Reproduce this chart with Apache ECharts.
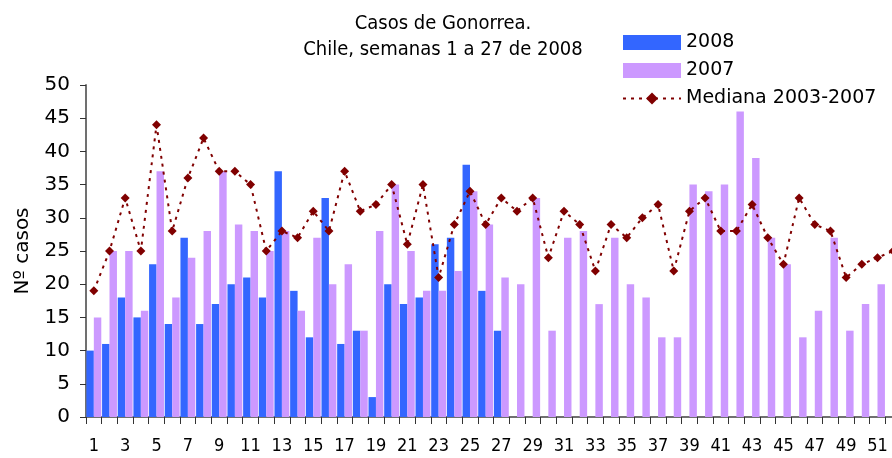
<!DOCTYPE html>
<html>
<head>
<meta charset="utf-8">
<script src="https://cdn.jsdelivr.net/npm/echarts@6/dist/echarts.min.js"></script>
<style>
html,body{margin:0;padding:0;background:#fff;}
#chart{width:892px;height:458px;}
</style>
</head>
<body>
<div id="chart"></div>
<script>
var weeks = [];
for (var w = 1; w <= 52; w++) weeks.push(String(w));

var cases2008 = [10, 11, 18, 15, 23, 14, 27, 14, 17, 20, 21, 18, 37, 19, 12, 33, 11, 13, 3, 20, 17, 18, 26, 27, 38, 19, 13];

var cases2007 = [15, 25, 25, 16, 37, 18, 24, 28, 37, 29, 28, 25, 28, 16, 27, 20, 23, 13, 28, 35,
                 25, 19, 19, 22, 34, 29, 21, 20, 33, 13, 27, 28, 17, 27, 20, 18, 12, 12, 35, 34,
                 35, 46, 39, 27, 23, 12, 16, 27, 13, 17, 20, 21];

var median0307 = [19, 25, 33, 25, 44, 28, 36, 42, 37, 37, 35, 25, 28, 27, 31, 28, 37, 31, 32, 35,
                  26, 35, 21, 29, 34, 29, 33, 31, 33, 24, 31, 29, 22, 29, 27, 30, 32, 22, 31, 33,
                  28, 28, 32, 27, 23, 33, 29, 28, 21, 23, 24, 25];

var FONT = 'DejaVu Sans';
var FONTC = 'DejaVu Sans Condensed';
var chart = echarts.init(document.getElementById('chart'), null, {renderer: 'canvas'});
chart.setOption({
  animation: false,
  backgroundColor: '#ffffff',
  title: {
    text: 'Casos de Gonorrea.\nChile, semanas 1 a 27 de 2008',
    left: 438,
    textAlign: 'center',
    top: 6,
    textStyle: {fontFamily: FONTC, fontSize: 20, fontWeight: 'normal', color: '#000', lineHeight: 26}
  },
  legend: {
    orient: 'vertical',
    left: 617,
    top: 28,
    itemWidth: 58,
    itemHeight: 15,
    itemGap: 9,
    textStyle: {fontFamily: FONT, fontSize: 19, color: '#000'},
    data: [
      {name: '2008', icon: 'rect'},
      {name: '2007', icon: 'rect'},
      {name: 'Mediana 2003-2007'}
    ]
  },
  grid: {left: 86, top: 85, width: 815, height: 332, outerBoundsMode: 'none', containLabel: false},
  xAxis: {
    type: 'category',
    data: weeks,
    boundaryGap: true,
    axisLine: {lineStyle: {color: '#707070', width: 2}},
    axisTick: {show: true, interval: 0, length: 7, lineStyle: {color: '#333', width: 1}},
    axisLabel: {interval: 1, margin: 20, fontFamily: FONTC, fontSize: 18, color: '#000'}
  },
  yAxis: {
    type: 'value',
    min: 0, max: 50, interval: 5,
    name: 'Nº casos',
    nameLocation: 'middle',
    nameRotate: 90,
    nameGap: 53,
    nameTextStyle: {fontFamily: FONT, fontSize: 20, color: '#000'},
    axisLine: {show: true, lineStyle: {color: '#707070', width: 2}},
    axisTick: {show: true, length: 6, lineStyle: {color: '#333'}},
    splitLine: {show: false},
    axisLabel: {margin: 16, fontFamily: FONT, fontSize: 20, color: '#000'}
  },
  series: [
    {
      name: '2008', type: 'bar', data: cases2008,
      itemStyle: {color: '#3366FF'},
      barGap: '0%', barCategoryGap: '5%'
    },
    {
      name: '2007', type: 'bar', data: cases2007,
      itemStyle: {color: '#CC99FF'},
      barGap: '0%', barCategoryGap: '5%'
    },
    {
      name: 'Mediana 2003-2007', type: 'line', data: median0307,
      symbol: 'diamond', symbolSize: 9,
      itemStyle: {color: '#800000'},
      lineStyle: {color: '#800000', width: 2, type: [3, 5]},
      z: 5
    }
  ]
});
</script>
</body>
</html>
